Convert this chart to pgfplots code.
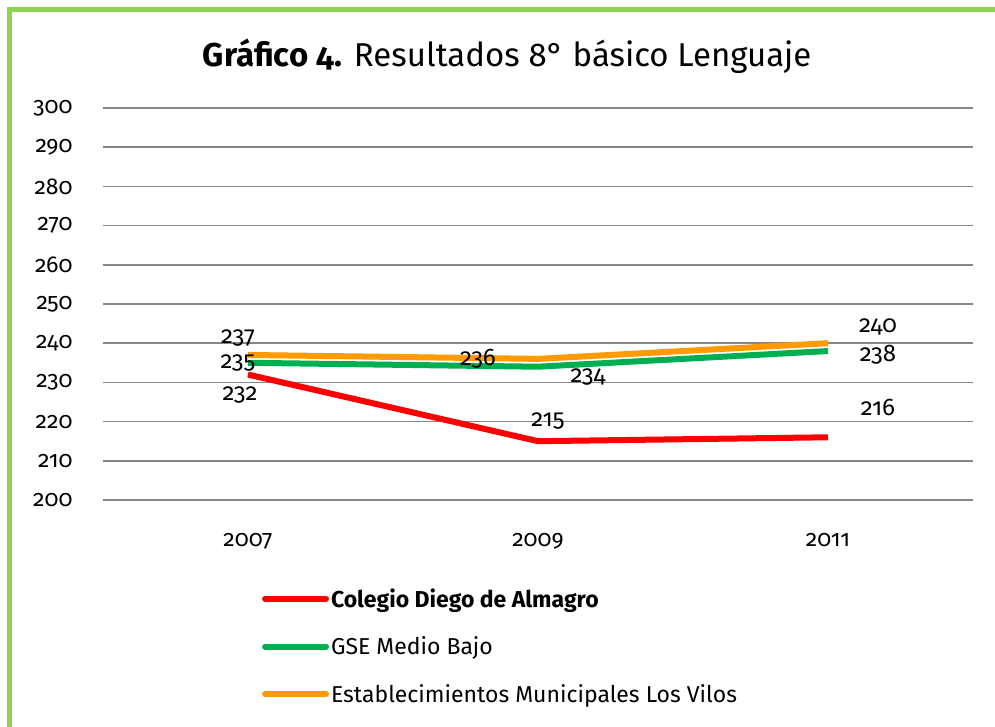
\documentclass[border=0pt]{standalone}
\usepackage{fontspec}
\setmainfont{Fira Sans}[Numbers=OldStyle]
\usepackage{pgfplots}
\pgfplotsset{compat=1.18}
\definecolor{cred}{RGB}{255,0,0}
\definecolor{cgreen}{RGB}{0,176,80}
\definecolor{corange}{RGB}{255,154,0}
\definecolor{cgrid}{RGB}{134,134,134}
\definecolor{cframe}{RGB}{146,208,80}
\begin{document}
\begin{tikzpicture}
\useasboundingbox (-103pt,-227pt) rectangle (892pt,500pt);
\fill[white] (-103pt,-227pt) rectangle (892pt,500pt);
\begin{axis}[
  at={(0pt,0pt)}, anchor=south west,
  scale only axis, width=870pt, height=392pt,
  xmin=-0.5, xmax=2.5, ymin=200, ymax=300,
  xtick={0,1,2}, xticklabels={2007,2009,2011},
  ytick={200,210,...,300},
  yticklabels={200,210,220,230,240,250,260,270,280,290,300},
  ymajorgrids, grid style={cgrid, line width=1.6pt},
  axis line style={draw=none},
  major tick length=0pt,
  tick label style={font=\fontsize{23}{27}\selectfont},
  yticklabel style={anchor=east, xshift=-27pt},
  xticklabel style={anchor=north, yshift=-30pt},
  clip=false,
  point meta=explicit symbolic,
  visualization depends on={value \thisrow{dx}\as\dx},
  visualization depends on={value \thisrow{dy}\as\dy},
  nodes near coords,
  nodes near coords style={anchor=center, xshift=\dx pt, yshift=\dy pt, text=black, font=\fontsize{24}{28}\selectfont},
  legend style={draw=none, fill=none, at={(0.1828,-0.221)}, anchor=north west,
    font=\fontsize{23}{27}\selectfont, row sep=24pt, inner sep=0pt, outer sep=0pt,
    cells={anchor=west}},
  legend image code/.code={\draw[#1, line width=6pt, line cap=round] (3pt,0pt) -- (64pt,0pt);},
]
\addplot[cred, line width=6pt, line join=round] table[x=x, y=y, meta=l] {
x y dx dy l
0 232 -8 -20 232
1 215 10 20 215
2 216 50 30 216
};
\addlegendentry{\textbf{Colegio Diego de Almagro}}
\addplot[cgreen, line width=6pt, line join=round] table[x=x, y=y, meta=l] {
x y dx dy l
0 235 -10 0 235
1 234 50 -10 234
2 238 50 -4 238
};
\addlegendentry{GSE Medio Bajo}
\addplot[corange, line width=6pt, line join=round] table[x=x, y=y, meta=l] {
x y dx dy l
0 237 -10 17 237
1 236 -60 0 236
2 240 50 16 240
};
\addlegendentry{Establecimientos Municipales Los Vilos}
\end{axis}
\node[font=\fontsize{33}{39}\selectfont] at (404pt,444pt) {\textbf{Gráfico 4.} Resultados 8° básico Lenguaje};
\draw[line width=5pt, cframe] (-93.5pt,-240pt) -- (-93.5pt,490pt) -- (900pt,490pt);
\end{tikzpicture}
\end{document}
